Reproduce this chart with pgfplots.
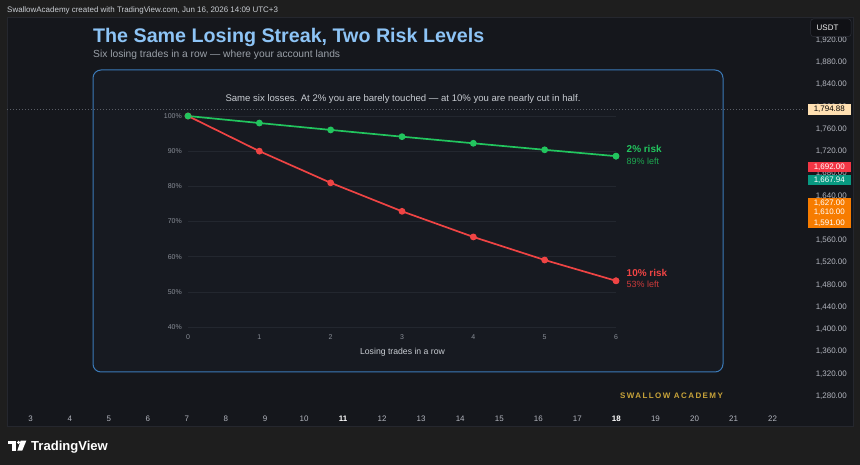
\documentclass[border=0pt]{standalone}
\usepackage{pgfplots}
\pgfplotsset{compat=1.18}
\usepackage{fontspec}
\setmainfont{Liberation Sans}

\definecolor{outerbg}{HTML}{1E1E1E}
\definecolor{chartbg}{HTML}{15171C}
\definecolor{framec}{HTML}{25272E}
\definecolor{panelbg}{HTML}{171A21}
\definecolor{panelborder}{HTML}{3B7AB8}
\definecolor{titleblue}{HTML}{8DC4F6}
\definecolor{subgray}{HTML}{9AA0A8}
\definecolor{notegray}{HTML}{C9CDD3}
\definecolor{scaletext}{HTML}{B2B5BE}
\definecolor{ticktext}{HTML}{8A8F98}
\definecolor{gridc}{HTML}{23272F}
\definecolor{pricedots}{HTML}{5A5E66}
\definecolor{riskgreen}{HTML}{22C55E}
\definecolor{riskred}{HTML}{EF4444}
\definecolor{gold}{HTML}{C9A43A}
\definecolor{creamtag}{HTML}{FFE0B2}
\definecolor{redtag}{HTML}{F23645}
\definecolor{tealtag}{HTML}{089981}
\definecolor{orangetag}{HTML}{F77C00}
\definecolor{usdtbg}{HTML}{101115}
\definecolor{usdtline}{HTML}{2E3039}

% equity left after n losing trades, in % of the starting balance
\pgfplotstableread{
n  risk2   risk10
0  100.00  100.00
1  98.00   90.00
2  96.04   81.00
3  94.12   72.90
4  92.24   65.61
5  90.39   59.05
6  88.58   53.14
}\streak

\newcommand{\fs}[1]{\fontsize{#1}{#1}\selectfont}

\begin{document}
\begin{tikzpicture}[x=1bp,y=-1bp]
\useasboundingbox (0,0) rectangle (860,465);
\clip (0,0) rectangle (860,465);
% page and chart frame
\fill[outerbg] (0,0) rectangle (860,465);
\filldraw[fill=chartbg, draw=framec, line width=0.5bp] (7,17) rectangle (853,426);

% header
\node[anchor=base west, inner sep=0pt, text=notegray, font=\fs{8}] at (7,12.2)
  {SwallowAcademy created with TradingView.com, Jun 16, 2026 14:09 UTC+3};
\node[anchor=base west, inner sep=0pt, text=titleblue, font=\fs{19.75}\bfseries] at (93,43)
  {The Same Losing Streak, Two Risk Levels};
\node[anchor=base west, inner sep=0pt, text=subgray, font=\fs{10.3}] at (93,57.5)
  {Six losing trades in a row — where your account lands};

% card behind the chart
\filldraw[fill=panelbg, draw=panelborder, line width=1bp, rounded corners=8bp] (93,70) rectangle (723,372);
\node[anchor=base, inner sep=0pt, text=notegray, font=\fs{9.6}] at (403,101.3)
  {Same six losses. At 2\% you are barely touched — at 10\% you are nearly cut in half.};
\node[anchor=center, inner sep=0pt, text=notegray, font=\fs{8.7}] at (402.5,352)
  {Losing trades in a row};

% price and time scales of the chart window
\begin{axis}[
  at={(7bp,-405bp)}, anchor=south west, scale only axis,
  width=798bp, height=388bp,
  xmin=2.393, xmax=22.83, ymin=1263.8, ymax=1961.3,
  clip=false, axis line style={draw=none}, major tick length=0,
  xtick={3,...,22},
  xticklabels={3,4,5,6,7,8,9,10,{\bfseries\color{white}11},12,13,14,15,16,17,{\bfseries\color{white}18},19,20,21,22},
  xticklabel style={anchor=center, yshift=-13.8bp, inner sep=0pt, font=\fs{8}, text=scaletext},
  ytick={1280,1320,...,1920},
  yticklabels={{1,280.00},{1,320.00},{1,360.00},{1,400.00},{1,440.00},{1,480.00},{1,520.00},{1,560.00},{1,600.00},{1,640.00},{1,680.00},{1,720.00},{1,760.00},{1,800.00},{1,840.00},{1,880.00},{1,920.00}},
  yticklabel pos=right,
  yticklabel style={anchor=east, xshift=42bp, inner sep=0pt, font=\fs{8}, text=scaletext},
]
% last-price line
\addplot[draw=pricedots, dash pattern=on 1bp off 2bp, line width=0.6bp] coordinates {(2.393,1794.88) (22.83,1794.88)};
\foreach \p/\lab/\bg/\fg in {1794.88/{1,794.88}/creamtag/black,1692/{1,692.00}/redtag/white,1667.94/{1,667.94}/tealtag/white,1627/{1,627.00}/orangetag/white,1610/{1,610.00}/orangetag/white,1591/{1,591.00}/orangetag/white}{
  \edef\temp{\noexpand\node[fill=\bg, text=\fg, anchor=east, inner sep=0pt, minimum height=10.4bp, minimum width=43bp, font=\noexpand\fs{8}] at (axis cs:22.83,\p) [xshift=46bp] {\lab};}
  \temp
}
\end{axis}

% brand mark
\node[anchor=center, inner sep=0pt, text=gold, font=\fs{8}\bfseries\addfontfeature{LetterSpace=18}] at (671.5,396) {SWALLOW ACADEMY};

% currency box
\filldraw[fill=usdtbg, draw=usdtline, line width=0.5bp, rounded corners=2.5bp] (810.7,19) rectangle (851,36.5);
\node[anchor=west, inner sep=0pt, text=white!90!gray, font=\fs{8}] at (816.5,27.7) {USDT};

% the two equity paths
\begin{axis}[
  at={(188bp,-327bp)}, anchor=south west, scale only axis,
  width=428bp, height=211bp,
  xmin=0, xmax=6, ymin=40, ymax=100,
  clip=false, axis line style={draw=none}, major tick length=0,
  /pgf/number format/assume math mode=true,
  xtick={0,...,6}, ytick={40,50,...,100},
  yticklabel={\pgfmathprintnumber{\tick}\%},
  ymajorgrids, grid style={draw=gridc, line width=0.6bp},
  xticklabel style={anchor=center, yshift=-10bp, inner sep=0pt, font=\fs{7}, text=ticktext},
  yticklabel style={anchor=east, xshift=-6bp, inner sep=0pt, font=\fs{7}, text=ticktext},
]
\addplot[riskred, line width=1.7bp, mark=*, mark size=2.5bp] table[x=n, y=risk10] {\streak};
\addplot[riskgreen, line width=1.7bp, mark=*, mark size=2.5bp] table[x=n, y=risk2] {\streak};
\addplot[riskred, only marks, mark=*, mark size=3bp] coordinates {(6,53.14)};
\addplot[riskgreen, only marks, mark=*, mark size=3bp] coordinates {(6,88.58)};
\node[anchor=base west, inner sep=0pt, text=riskgreen, font=\fs{10}\bfseries] at (axis cs:6,88.58) [xshift=10.5bp, yshift=3.3bp] {2\% risk};
\node[anchor=base west, inner sep=0pt, text=riskgreen!85!black, font=\fs{9}] at (axis cs:6,88.58) [xshift=10.5bp, yshift=-8bp] {89\% left};
\node[anchor=base west, inner sep=0pt, text=riskred, font=\fs{10}\bfseries] at (axis cs:6,53.14) [xshift=10.5bp, yshift=4.3bp] {10\% risk};
\node[anchor=base west, inner sep=0pt, text=riskred!85!black, font=\fs{9}] at (axis cs:6,53.14) [xshift=10.5bp, yshift=-7bp] {53\% left};
\end{axis}

% TradingView logo
\fill[white] (7.5,440.7) rectangle (16,444.2);
\fill[white] (12.4,444.2) rectangle (16,450.7);
\fill[white] (18.6,442.4) circle (1.7);
\fill[white] (20.6,440.7) -- (26.3,440.7) -- (22.2,450.7) -- (17.3,450.7) -- cycle;
\node[anchor=base west, inner sep=0pt, text=white, font=\fs{13.1}\bfseries] at (31,450.4) {TradingView};
\end{tikzpicture}
\end{document}
